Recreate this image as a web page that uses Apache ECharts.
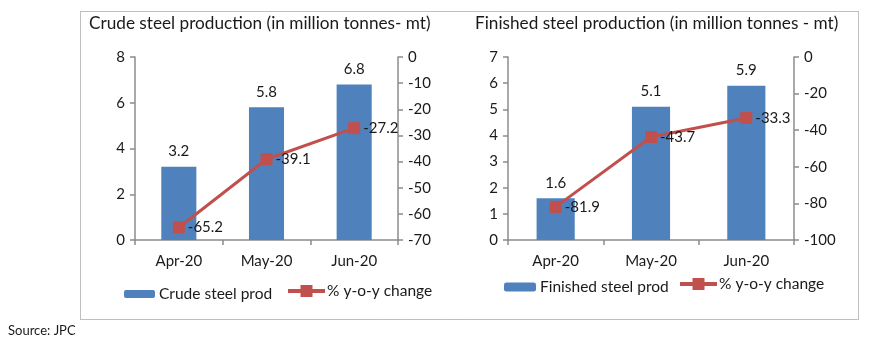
<!DOCTYPE html>
<html>
<head>
<meta charset="utf-8">
<script src="https://cdn.jsdelivr.net/npm/echarts@6/dist/echarts.min.js"></script>
<style>
  html, body { margin: 0; padding: 0; background: #fff; }
  #chart { width: 880px; height: 344px; }
</style>
</head>
<body>
<div id="chart"></div>
<script>
// Monthly steel output (million tonnes) and year-on-year change (%)
const months = ['Apr-20', 'May-20', 'Jun-20'];
const crudeProd = [3.2, 5.8, 6.8];
const crudeYoy = [-65.2, -39.1, -27.2];
const finishedProd = [1.6, 5.1, 5.9];
const finishedYoy = [-81.9, -43.7, -33.3];

const crudeTicks = { min: 0, max: 8, interval: 2 };
const crudeYoyTicks = { min: -70, max: 0, interval: 10 };
const finishedTicks = { min: 0, max: 7, interval: 1 };
const finishedYoyTicks = { min: -100, max: 0, interval: 20 };

const FONT = 'Lato';
const TEXT = '#1a1a1a';
const AXIS = '#8c8c8c';
const BLUE = '#4F81BD';
const RED = '#C0504D';

function xAxis(grid) {
  return {
    type: 'category', gridIndex: grid, data: months,
    axisLine: { lineStyle: { color: AXIS, width: 1.5 } },
    axisTick: { show: true, length: 5, lineStyle: { color: AXIS, width: 1.5 } },
    axisLabel: { color: TEXT, fontFamily: FONT, fontSize: 15, margin: 14 }
  };
}
function yAxis(grid, t, side) {
  return {
    type: 'value', gridIndex: grid, position: side,
    min: t.min, max: t.max, interval: t.interval,
    splitLine: { show: false },
    axisLine: { show: true, lineStyle: { color: AXIS, width: 1.5 } },
    axisTick: { show: true, length: 5, lineStyle: { color: AXIS, width: 1.5 } },
    axisLabel: { color: TEXT, fontFamily: FONT, fontSize: 15, margin: 10 }
  };
}
function barSeries(name, data, idx) {
  return {
    name, type: 'bar', data, xAxisIndex: idx, yAxisIndex: idx * 2,
    barWidth: '40%', itemStyle: { color: BLUE },
    label: { show: true, position: 'top', distance: 8, color: TEXT,
             fontFamily: FONT, fontSize: 15 }
  };
}
function lineSeries(data, idx) {
  return {
    name: '% y-o-y change', type: 'line', data, xAxisIndex: idx, yAxisIndex: idx * 2 + 1,
    symbol: 'rect', symbolSize: 12,
    lineStyle: { color: RED, width: 3 }, itemStyle: { color: RED },
    label: { show: true, position: 'right', distance: 3, color: TEXT,
             fontFamily: FONT, fontSize: 15 },
    z: 5
  };
}
function legend(name, left, top, w, h, gap) {
  return {
    left, top, itemWidth: w, itemHeight: h, itemGap: 0, padding: 0,
    data: [name],
    lineStyle: { width: 4 },
    textStyle: { fontFamily: FONT, fontSize: 15.5, color: TEXT, padding: [0, 0, 0, gap] }
  };
}

const chart = echarts.init(document.getElementById('chart'), null, { renderer: 'canvas' });
chart.setOption({
  animation: false,
  textStyle: { fontFamily: FONT },
  title: [
    { text: 'Crude steel production (in million tonnes- mt)', left: 89, top: 15, padding: 0,
      textStyle: { fontFamily: FONT, fontSize: 17.2, fontWeight: 'normal', color: TEXT } },
    { text: 'Finished steel production (in million tonnes - mt)', left: 475, top: 15, padding: 0,
      textStyle: { fontFamily: FONT, fontSize: 17.2, fontWeight: 'normal', color: TEXT } },
    { text: 'Source: JPC', left: 8, top: 324, padding: 0,
      textStyle: { fontFamily: FONT, fontSize: 13, fontWeight: 'normal', color: TEXT } }
  ],
  grid: [
    { left: 135, top: 57, width: 263, height: 183 },
    { left: 508, top: 57, width: 286, height: 183 }
  ],
  legend: [
    legend('Crude steel prod', 124, 286, 31, 8, -1),
    legend('% y-o-y change', 286, 283, 37, 15, -3),
    legend('Finished steel prod', 504, 279, 32, 9, -1),
    legend('% y-o-y change', 678, 276, 37, 15, -3)
  ],
  xAxis: [xAxis(0), xAxis(1)],
  yAxis: [
    yAxis(0, crudeTicks, 'left'), yAxis(0, crudeYoyTicks, 'right'),
    yAxis(1, finishedTicks, 'left'), yAxis(1, finishedYoyTicks, 'right')
  ],
  series: [
    barSeries('Crude steel prod', crudeProd, 0),
    lineSeries(crudeYoy, 0),
    barSeries('Finished steel prod', finishedProd, 1),
    lineSeries(finishedYoy, 1)
  ],
  graphic: [
    { type: 'rect', shape: { x: 80.5, y: 11.5, width: 778, height: 308 },
      style: { fill: 'none', stroke: '#7f7f7f', lineWidth: 1, lineDash: [1, 1] }, silent: true }
  ]
});
</script>
</body>
</html>
